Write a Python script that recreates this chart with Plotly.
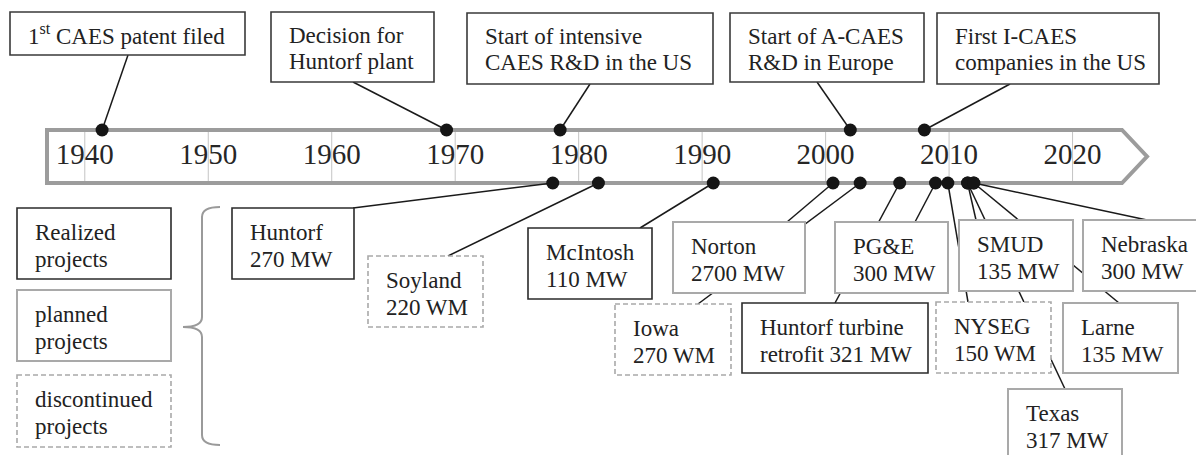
import plotly.graph_objects as go

W, H = 1204, 455
OFF = 8  # page body margin: figure pixel 0 sits at screen pixel 8
FONT = "Liberation Serif"

# ---------------- data ----------------
year_ticks = [1940, 1950, 1960, 1970, 1980, 1990, 2000, 2010, 2020]
year_tick_labels = ["1940", "1950", "1960", "1970", "1980", "1990", "2000", "2010", "2020"]

milestone_line1 = ["1<sup>st</sup> CAES patent filed", "Decision for", "Start of intensive",
                   "Start of A-CAES", "First I-CAES"]
milestone_line2 = ["", "Huntorf plant", "CAES R&D in the US", "R&D in Europe", "companies in the US"]
milestone_years = [1941.4, 1969.3, 1978.5, 2002.0, 2008.0]

project_names = ["Huntorf", "Soyland", "McIntosh", "Norton", "Iowa", "Huntorf turbine",
                 "PG&E", "NYSEG", "SMUD", "Texas", "Larne", "Nebraska"]
project_captions = ["270 MW", "220 WM", "110 MW", "2700 MW", "270 WM", "retrofit 321 MW",
                    "300 MW", "150 WM", "135 MW", "317 MW", "135 MW", "300 MW"]
project_years = [1977.9, 1981.6, 1990.9, 2000.6, 2002.8, 2006.0,
                 2008.9, 2009.9, 2011.5, 2011.5, 2012.0, 2012.0]
project_status = ["realized", "discontinued", "realized", "planned", "discontinued", "realized",
                  "planned", "discontinued", "planned", "planned", "planned", "planned"]

legend_status = ["realized", "planned", "discontinued"]
legend_line1 = ["Realized", "planned", "discontinued"]
legend_line2 = ["projects", "projects", "projects"]

# ---------------- layout (screen pixels) ----------------
PX_1980 = 578.67
PX_PER_YEAR = 12.347
X_MIN = 1980 - (PX_1980 - OFF) / PX_PER_YEAR
X_MAX = X_MIN + W / PX_PER_YEAR


def px2x(px):
    return 1980 + (px - PX_1980) / PX_PER_YEAR


def px2paper(px):
    return (px - OFF) / W


BAND_TOP, BAND_BOT = 130, 183
BAND_LEFT, BAND_RIGHT, BAND_TIP = 47, 1122, 1147

milestone_boxes = [(10, 12, 245, 55), (271, 12, 434, 82), (467, 13, 713, 84),
                   (730, 13, 924, 82), (937, 13, 1159, 84)]
milestone_anchors = [(128, 55), (353, 82), (590, 84), (817, 82), (1010, 84)]

project_boxes = [(232, 208, 354, 279), (368, 256, 483, 327), (528, 228, 652, 299),
                 (673, 222, 805, 293), (615, 304, 731, 375), (742, 303, 928, 373),
                 (835, 222, 948, 293), (936, 302, 1051, 373), (959, 220, 1073, 291),
                 (1008, 389, 1122, 466), (1063, 303, 1178, 373), (1083, 220, 1206, 291)]
project_anchors = [(353, 208), (448, 256), (640, 228), (787, 222), (698, 304), (835, 303),
                   (915, 222), (968, 302), (976, 220), (1065, 389), (1119, 303), (1147, 220)]

legend_boxes = [(17, 208, 171, 279), (17, 290, 171, 361), (17, 375, 171, 447)]

STYLES = {
    "realized": dict(color="#2b2b2b", width=1.6, dash="solid"),
    "planned": dict(color="#a9a9a9", width=2, dash="solid"),
    "discontinued": dict(color="#a9a9a9", width=1.6, dash="5px,3px"),
    "milestone": dict(color="#3a3a3a", width=1.6, dash="solid"),
}
TEXT_COLOR = "#222222"
TEXT_SIZE = 23
PAD = 16

fig = go.Figure()
shapes = []
annotations = []

# timeline band (arrow)
band_path = (f"M {px2x(BAND_LEFT)},{BAND_TOP} L {px2x(BAND_RIGHT)},{BAND_TOP} "
             f"L {px2x(BAND_TIP)},{(BAND_TOP + BAND_BOT) / 2} L {px2x(BAND_RIGHT)},{BAND_BOT} "
             f"L {px2x(BAND_LEFT)},{BAND_BOT} Z")
shapes.append(dict(type="path", path=band_path, xref="x", yref="y", layer="below",
                   fillcolor="white", line=dict(color="#9c9c9c", width=4)))
for yr in year_ticks:
    shapes.append(dict(type="line", xref="x", yref="y", x0=yr, x1=yr,
                       y0=BAND_TOP + 2, y1=BAND_BOT - 2, layer="below",
                       line=dict(color="#c4c4c4", width=1)))

# year labels
fig.add_trace(go.Scatter(x=year_ticks, y=[157] * len(year_ticks), mode="text",
                         text=year_tick_labels, textposition="middle center",
                         textfont=dict(family=FONT, size=29, color="#262626"),
                         hoverinfo="skip", showlegend=False))

# connectors
for yr, (ax, ay) in zip(milestone_years, milestone_anchors):
    fig.add_trace(go.Scatter(x=[yr, px2x(ax)], y=[BAND_TOP, ay], mode="lines",
                             line=dict(color="#1a1a1a", width=1.5),
                             hoverinfo="skip", showlegend=False))
for yr, (ax, ay) in zip(project_years, project_anchors):
    fig.add_trace(go.Scatter(x=[yr, px2x(ax)], y=[BAND_BOT, ay], mode="lines",
                             line=dict(color="#1a1a1a", width=1.5),
                             hoverinfo="skip", showlegend=False))

# dots
fig.add_trace(go.Scatter(x=milestone_years, y=[BAND_TOP] * len(milestone_years), mode="markers",
                         marker=dict(size=13, color="#151515"), hoverinfo="skip", showlegend=False))
fig.add_trace(go.Scatter(x=project_years, y=[BAND_BOT] * len(project_years), mode="markers",
                         marker=dict(size=13, color="#151515"), hoverinfo="skip", showlegend=False))


def add_box(rect, style, line1, line2, two_line_offsets):
    x0, y0, x1, y1 = rect
    st = STYLES[style]
    shapes.append(dict(type="rect", xref="paper", yref="y", x0=px2paper(x0), x1=px2paper(x1),
                       y0=y0, y1=y1, layer="above", fillcolor="white",
                       line=dict(color=st["color"], width=st["width"], dash=st["dash"])))
    if line2:
        ys = [y0 + two_line_offsets[0], y0 + two_line_offsets[1]]
        texts = [line1, line2]
    else:
        ys = [(y0 + y1) / 2 + 1]
        texts = [line1]
    for t, yy in zip(texts, ys):
        annotations.append(dict(text=t, xref="paper", yref="y", x=px2paper(x0 + PAD), y=yy,
                                xanchor="left", yanchor="middle", showarrow=False,
                                font=dict(family=FONT, size=TEXT_SIZE, color=TEXT_COLOR)))


for rect, l1, l2 in zip(milestone_boxes, milestone_line1, milestone_line2):
    add_box(rect, "milestone", l1, l2, (23, 49))
for rect, st, l1, l2 in zip(project_boxes, project_status, project_names, project_captions):
    add_box(rect, st, l1, l2, (24, 51))
for rect, st, l1, l2 in zip(legend_boxes, legend_status, legend_line1, legend_line2):
    add_box(rect, st, l1, l2, (24, 51))

# brace
bx, tip_x, right_x = 202, 183, 220
top_y, mid_y, bot_y = 207, 327, 445


def P(px, py):
    return f"{px2x(px)},{py}"


brace = (f"M {P(right_x, top_y)} Q {P(bx, top_y)} {P(bx, top_y + 10)} L {P(bx, mid_y - 10)} "
         f"Q {P(bx, mid_y)} {P(tip_x, mid_y)} M {P(tip_x, mid_y)} Q {P(bx, mid_y)} {P(bx, mid_y + 10)} "
         f"L {P(bx, bot_y - 10)} Q {P(bx, bot_y)} {P(right_x, bot_y)}")
shapes.append(dict(type="path", path=brace, xref="x", yref="y", layer="above",
                   line=dict(color="#9a9a9a", width=2)))

fig.update_layout(
    width=W, height=H, margin=dict(l=0, r=0, t=0, b=0),
    paper_bgcolor="white", plot_bgcolor="white",
    xaxis=dict(range=[X_MIN, X_MAX], visible=False, fixedrange=True),
    yaxis=dict(range=[H + OFF, OFF], visible=False, fixedrange=True),
    shapes=shapes, annotations=annotations, showlegend=False,
)

fig.write_html("out.html")
